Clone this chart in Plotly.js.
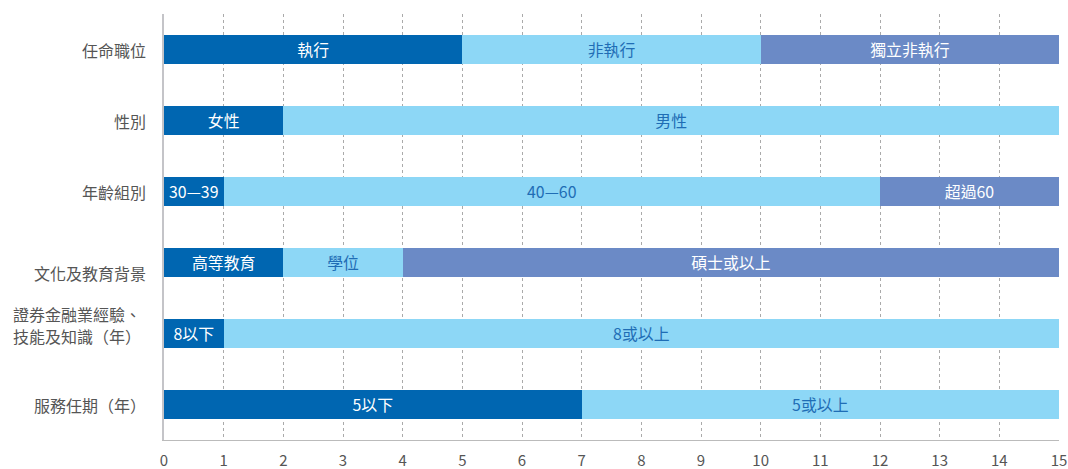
<!DOCTYPE html>
<html><head><meta charset="utf-8">
<script src="https://cdn.plot.ly/plotly-3.0.1.min.js"></script>
<style>html,body{margin:0;padding:0;background:#fff}#chart{width:1068px;height:469px}</style>
</head><body><div id="chart"></div>
<script>
const categories = ["任命職位","性別","年齡組別","文化及教育背景","證券金融業經驗、<br>技能及知識（年）","服務任期（年）"];
const seg1Values = [5, 2, 1, 2, 1, 7];
const seg1Labels = ["執行","女性","30—39","高等教育","8以下","5以下"];
const seg2Values = [5, 13, 11, 2, 14, 8];
const seg2Labels = ["非執行","男性","40—60","學位","8或以上","5或以上"];
const seg3Values = [5, 0, 3, 11, 0, 0];
const seg3Labels = ["獨立非執行","","超過60","碩士或以上","",""];
const xTicks = [0,1,2,3,4,5,6,7,8,9,10,11,12,13,14,15];

const font = "Noto Sans CJK TC, Noto Sans, sans-serif";
function tr(vals, labels, color, txtColor){
  return {type:'bar', orientation:'h', y:categories, x:vals, text:labels,
    textposition:'inside', insidetextanchor:'middle', textangle:0,
    textfont:{family:font, size:16, color:txtColor},
    marker:{color:color, line:{width:0}}, hoverinfo:'none', cliponaxis:false};
}
const data = [
  tr(seg1Values, seg1Labels, '#0066b1', '#ffffff'),
  tr(seg2Values, seg2Labels, '#8dd7f6', '#1f6db5'),
  tr(seg3Values, seg3Labels, '#6b8ac6', '#ffffff')
];

// category labels as annotations (to control line spacing / alignment)
const labelYShift = [0, 0, 0, -10, 0, 0];
const annotations = [];
categories.forEach((c, i) => {
  const lines = c.split('<br>');
  if (lines.length === 1) {
    annotations.push({xref:'paper', yref:'y', x:0, y:c, xanchor:'right', yanchor:'middle',
      xshift:-16, yshift:labelYShift[i], text:lines[0], showarrow:false,
      font:{family:font, size:16, color:'#555'}});
  } else {
    const shifts = [20, -2];
    lines.forEach((ln, k) => {
      annotations.push({xref:'paper', yref:'y', x:0, y:c, xanchor:'left', yanchor:'middle',
        xshift:-153, yshift:shifts[k], text:ln, showarrow:false,
        font:{family:font, size:16, color:'#555'}});
    });
  }
});

const layout = {
  width:1068, height:469, barmode:'stack', bargap:0.58, showlegend:false,
  margin:{l:164, r:9, t:14, b:29},
  paper_bgcolor:'#fff', plot_bgcolor:'#fff',
  font:{family:font, size:16, color:'#555'},
  annotations: annotations,
  xaxis:{range:[0,15], tickvals:xTicks, ticktext:xTicks.map(String),
    showgrid:true, gridcolor:'#aaaaaa', griddash:'dot', gridwidth:1,
    zeroline:false, showline:true, linecolor:'#bbbbbb', linewidth:1,
    ticks:'outside', ticklen:7, tickcolor:'rgba(0,0,0,0)',
    tickfont:{family:font, size:15, color:'#555'}},
  yaxis:{categoryorder:'array', categoryarray:categories, autorange:'reversed',
    showgrid:false, zeroline:false, showline:true, linecolor:'#c4c4c8', linewidth:2,
    showticklabels:false, ticks:''}
};
Plotly.newPlot('chart', data, layout, {displayModeBar:false, staticPlot:true});
</script></body></html>
